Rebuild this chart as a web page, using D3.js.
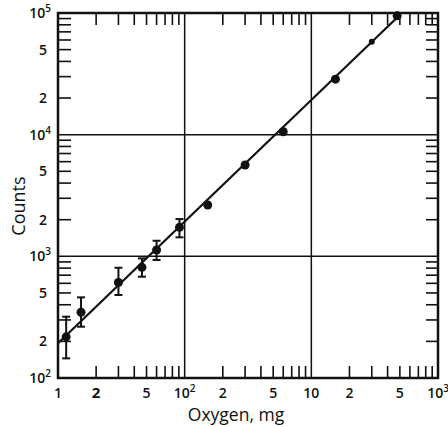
<!DOCTYPE html>
<html>
<head>
<meta charset="utf-8">
<script src="https://cdn.jsdelivr.net/npm/d3@7"></script>
<style>
  body { margin: 0; background: #fff; }
  svg { display: block; }
</style>
</head>
<body>
<script>
// data (oxygen in mg vs counts)
const oxygen = [1.16, 1.52, 3.0, 4.6, 6.0, 9.1, 15.2, 30, 60, 155, 300, 476];
const counts = [218, 347, 610, 812, 1127, 1730, 2640, 5630, 10570, 28600, 58000, 94800];
const errLow = [145, 264, 481, 680, 933, 1433, null, null, null, null, null, null];
const errHigh = [319, 460, 806, 962, 1343, 2025, null, null, null, null, null, null];

const fitX = [1, 490];
const fitY = [193, 94600];

const xTickValues = [1, 2, 5, 10, 20, 50, 100, 200, 500, 1000];
const xTickLabels = ["1", "2", "5", "10^2", "2", "5", "10", "2", "5", "10^3"];
const yTickValues = [100, 200, 500, 1000, 2000, 5000, 10000, 20000, 50000, 100000];
const yTickLabels = ["10^2", "2", "5", "10^3", "2", "5", "10^4", "2", "5", "10^5"];
const xGrid = [10, 100];
const yGrid = [1000, 10000];

const width = 448, height = 427;
const mLeft = 58, mRight = 438, mTop = 13, mBottom = 378;

const x = d3.scaleLog().domain([1, 1000]).range([mLeft, mRight]);
const y = d3.scaleLog().domain([100, 100000]).range([mBottom, mTop]);

const svg = d3.select("body").append("svg")
  .attr("width", width)
  .attr("height", height)
  .style("font-family", "'Open Sans', 'DejaVu Sans', sans-serif");

// minor ticks 2..9 per decade
function decadeTicks(lo, hi) {
  const t = [];
  for (let d = lo; d < hi; d *= 10)
    for (let k = 2; k <= 9; k++) t.push(d * k);
  return t;
}
const xMinor = decadeTicks(1, 1000);
const yMinor = decadeTicks(100, 100000);

const tickLen = 12;
const ticks = svg.append("g").attr("stroke", "#111").attr("stroke-width", 1.6);

ticks.selectAll(".xb").data(xMinor).join("line")
  .attr("x1", d => x(d)).attr("x2", d => x(d))
  .attr("y1", mBottom).attr("y2", mBottom - tickLen);
ticks.selectAll(".xt").data(xMinor).join("line")
  .attr("x1", d => x(d)).attr("x2", d => x(d))
  .attr("y1", mTop).attr("y2", mTop + tickLen);
ticks.selectAll(".yl").data(yMinor).join("line")
  .attr("x1", mLeft).attr("x2", mLeft + tickLen + 1)
  .attr("y1", d => y(d)).attr("y2", d => y(d));
ticks.selectAll(".yr").data(yMinor).join("line")
  .attr("x1", mRight).attr("x2", mRight - tickLen)
  .attr("y1", d => y(d)).attr("y2", d => y(d));

// grid lines
const grid = svg.append("g").attr("stroke", "#111").attr("stroke-width", 1.5);
grid.selectAll(".gx").data(xGrid).join("line")
  .attr("x1", d => x(d)).attr("x2", d => x(d))
  .attr("y1", mTop).attr("y2", mBottom);
grid.selectAll(".gy").data(yGrid).join("line")
  .attr("x1", mLeft).attr("x2", mRight)
  .attr("y1", d => y(d)).attr("y2", d => y(d));

// frame
svg.append("rect")
  .attr("x", mLeft).attr("y", mTop)
  .attr("width", mRight - mLeft).attr("height", mBottom - mTop)
  .attr("fill", "none").attr("stroke", "#111").attr("stroke-width", 2.5);

// tick labels
function writeLabel(sel, s) {
  const parts = s.split("^");
  sel.append("tspan").text(parts[0]);
  if (parts[1]) sel.append("tspan")
    .attr("dy", -6).attr("font-size", 10).text(parts[1]);
}

svg.append("g").selectAll("text").data(xTickValues).join("text")
  .attr("x", d => x(d))
  .attr("y", 398)
  .attr("text-anchor", "middle")
  .attr("font-size", (d, i) => i === 1 ? 15 : 14)
  .attr("font-weight", (d, i) => i === 1 ? 700 : 600)
  .attr("fill", "#111")
  .each(function (d, i) { writeLabel(d3.select(this), xTickLabels[i]); });

svg.append("g").selectAll("text").data(yTickValues).join("text")
  .attr("x", (d, i) => yTickLabels[i].includes("^") ? 51 : 47)
  .attr("y", d => y(d) + 5)
  .attr("text-anchor", "end")
  .attr("font-size", 14)
  .attr("font-weight", 600)
  .attr("fill", "#111")
  .each(function (d, i) { writeLabel(d3.select(this), yTickLabels[i]); });

// axis titles
svg.append("text")
  .attr("x", 236).attr("y", 421)
  .attr("text-anchor", "middle")
  .attr("font-size", 17.5)
  .attr("fill", "#111")
  .text("Oxygen, mg");

svg.append("text")
  .attr("transform", `translate(25, 206) rotate(-90)`)
  .attr("text-anchor", "middle")
  .attr("font-size", 18)
  .attr("fill", "#111")
  .text("Counts");

// fitted line
svg.append("path")
  .datum(fitX.map((v, i) => [v, fitY[i]]))
  .attr("fill", "none")
  .attr("stroke", "#111")
  .attr("stroke-width", 2.2)
  .attr("d", d3.line().x(d => x(d[0])).y(d => y(d[1])));

// error bars
const pts = oxygen.map((v, i) => ({ x: v, y: counts[i], lo: errLow[i], hi: errHigh[i] }));
const eb = svg.append("g").attr("stroke", "#111").attr("stroke-width", 2);
const withErr = pts.filter(d => d.lo !== null);
eb.selectAll(".v").data(withErr).join("line")
  .attr("x1", d => x(d.x)).attr("x2", d => x(d.x))
  .attr("y1", d => y(d.lo)).attr("y2", d => y(d.hi));
eb.selectAll(".c1").data(withErr).join("line")
  .attr("x1", d => x(d.x) - 4).attr("x2", d => x(d.x) + 4)
  .attr("y1", d => y(d.lo)).attr("y2", d => y(d.lo));
eb.selectAll(".c2").data(withErr).join("line")
  .attr("x1", d => x(d.x) - 4).attr("x2", d => x(d.x) + 4)
  .attr("y1", d => y(d.hi)).attr("y2", d => y(d.hi));

// points
svg.append("g").selectAll("circle").data(pts).join("circle")
  .attr("cx", d => x(d.x))
  .attr("cy", d => y(d.y))
  .attr("r", (d, i) => i === 10 ? 3 : 4.5)
  .attr("fill", "#111");
</script>
</body>
</html>
